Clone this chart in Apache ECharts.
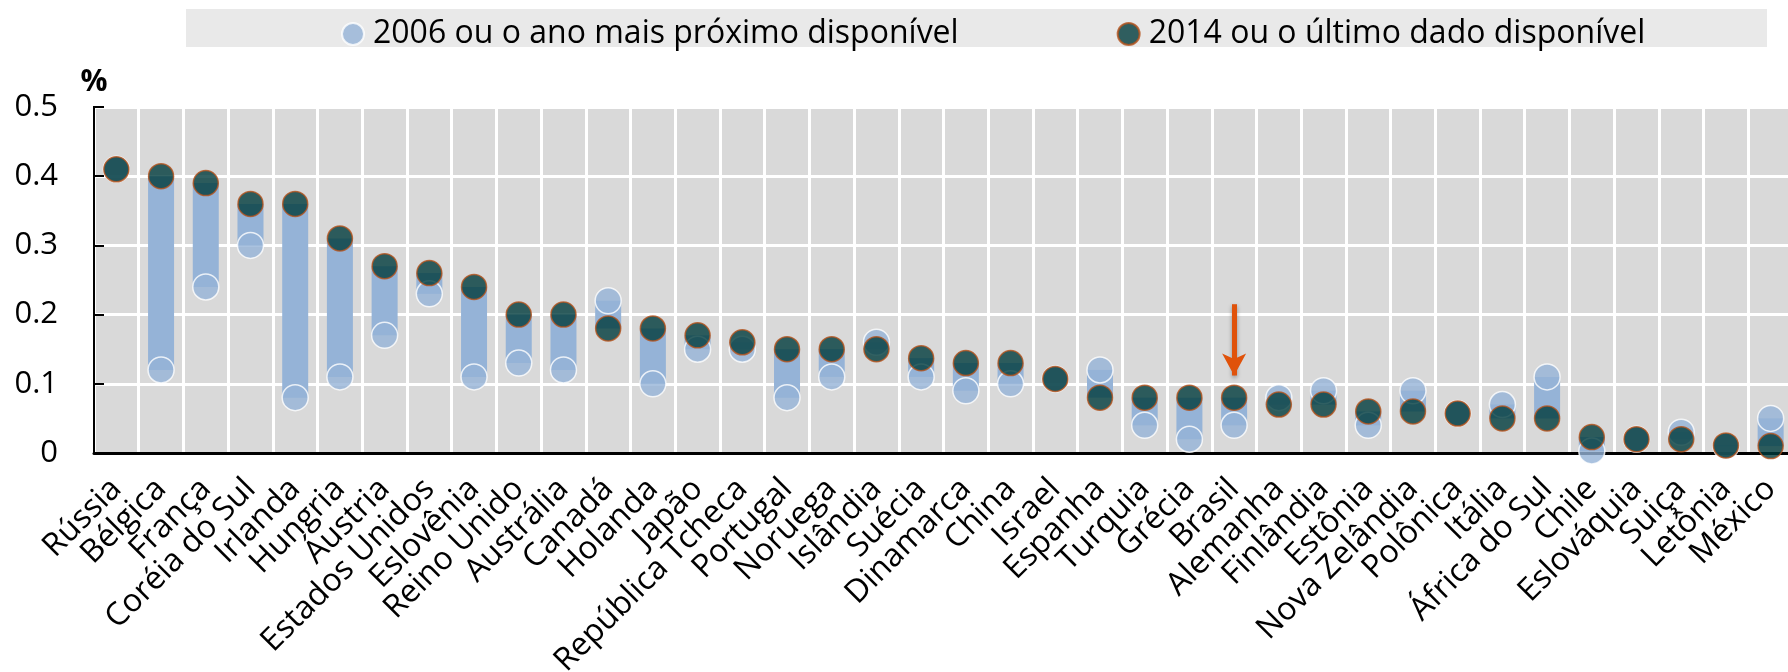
<!DOCTYPE html>
<html>
<head>
<meta charset="utf-8">
<script src="https://cdn.jsdelivr.net/npm/echarts@6/dist/echarts.min.js"></script>
<style>
  html, body { margin: 0; padding: 0; background: #fff; }
  #chart { width: 1788px; height: 672px; }
</style>
</head>
<body>
<div id="chart"></div>
<script>
// países (rótulos do eixo x)
const countries = [
  'Rússia', 'Bélgica', 'França', 'Coréia do Sul', 'Irlanda', 'Hungria', 'Áustria',
  'Estados Unidos', 'Eslovênia', 'Reino Unido', 'Austrália', 'Canadá', 'Holanda',
  'Japão', 'República Tcheca', 'Portugal', 'Noruega', 'Islândia', 'Suécia',
  'Dinamarca', 'China', 'Israel', 'Espanha', 'Turquia', 'Grécia', 'Brasil',
  'Alemanha', 'Finlândia', 'Estônia', 'Nova Zelândia', 'Polônica', 'Itália',
  'África do Sul', 'Chile', 'Eslováquia', 'Suiça', 'Letônia', 'México'
]

// 2006 ou o ano mais próximo disponível
const v2006 = [
  0.41, 0.12, 0.24, 0.30, 0.08, 0.11, 0.17, 0.23, 0.11, 0.13, 0.12, 0.22, 0.10,
  0.15, 0.15, 0.08, 0.11, 0.16, 0.11, 0.09, 0.10, 0.107, 0.12, 0.04, 0.02, 0.04,
  0.08, 0.09, 0.04, 0.09, 0.057, 0.07, 0.11, 0.003, 0.02, 0.03, 0.01, 0.05
]

// 2014 ou o último dado disponível
const v2014 = [
  0.41, 0.40, 0.39, 0.36, 0.36, 0.31, 0.27, 0.26, 0.24, 0.20, 0.20, 0.18, 0.18,
  0.17, 0.16, 0.15, 0.15, 0.15, 0.137, 0.13, 0.13, 0.107, 0.08, 0.08, 0.08, 0.08,
  0.07, 0.07, 0.06, 0.06, 0.057, 0.05, 0.05, 0.023, 0.02, 0.02, 0.011, 0.01
]

const yTicks = [0, 0.1, 0.2, 0.3, 0.4, 0.5]

const legendNames = ['2006 ou o ano mais próximo disponível', '2014 ou o último dado disponível']

// barra de intervalo entre os dois pontos
const rangeBase = v2006.map((v, i) => Math.min(v, v2014[i]))
const rangeSize = v2006.map((v, i) => Math.abs(v - v2014[i]))

const FONT = '"Open Sans", sans-serif'

const chart = echarts.init(document.getElementById('chart'))

const option = {
  animation: false,
  textStyle: { fontFamily: FONT, color: '#000' },
  graphic: [
    {
      // fundo cinza da legenda
      type: 'rect',
      left: 186,
      top: 9,
      shape: { width: 1581, height: 38 },
      style: { fill: '#e9e9e9' },
      z: -1
    }
  ],
  legend: {
    data: legendNames,
    left: 336,
    top: 13,
    itemWidth: 30,
    itemHeight: 22,
    itemGap: 158,
    textStyle: { fontSize: 32, color: '#000', fontFamily: FONT }
  },
  grid: {
    left: 94,
    right: -5,
    top: 107,
    bottom: 219,
    outerBoundsMode: 'none',
    show: true,
    backgroundColor: '#d9d9d9',
    borderColor: '#000',
    borderWidth: 2
  },
  xAxis: {
    type: 'category',
    data: countries,
    boundaryGap: true,
    axisLine: { lineStyle: { color: '#000', width: 3 } },
    axisTick: { inside: true, length: 10, interval: 0, lineStyle: { color: '#000', width: 2 } },
    splitLine: { show: true, interval: 0, lineStyle: { color: '#fff', width: 3 } },
    axisLabel: {
      interval: 0,
      rotate: 45,
      margin: 31,
      fontSize: 32,
      color: '#000',
      fontFamily: FONT
    }
  },
  yAxis: {
    type: 'value',
    min: yTicks[0],
    max: yTicks[yTicks.length - 1],
    interval: 0.1,
    name: '%',
    nameLocation: 'end',
    nameGap: 10,
    nameTextStyle: { fontSize: 30, fontWeight: 'bold', color: '#000', fontFamily: FONT },
    axisLine: { show: true, lineStyle: { color: '#000', width: 2 } },
    axisTick: { show: true, inside: true, length: 10, lineStyle: { color: '#000', width: 2 } },
    splitLine: { lineStyle: { color: '#fff', width: 3 } },
    axisLabel: {
      margin: 36,
      fontSize: 31,
      color: '#000',
      fontFamily: FONT,
      formatter: v => String(Math.round(v * 10) / 10)
    }
  },
  series: [
    {
      name: 'base',
      type: 'bar',
      stack: 'range',
      data: rangeBase,
      barWidth: 26,
      itemStyle: { color: 'transparent' },
      silent: true
    },
    {
      name: 'range',
      type: 'bar',
      stack: 'range',
      data: rangeSize,
      barWidth: 26,
      itemStyle: { color: '#95b3d7' },
      silent: true,
      markLine: {
        silent: true,
        symbol: ['none', 'arrow'],
        symbolSize: [18, 22],
        label: { show: false },
        lineStyle: {
          color: '#e0520a',
          width: 5,
          type: 'solid',
          shadowColor: 'rgba(0,0,0,0.35)',
          shadowBlur: 4,
          shadowOffsetY: 2
        },
        data: [
          [
            { coord: ['Brasil', 0.215] },
            { coord: ['Brasil', 0.112] }
          ]
        ]
      }
    },
    {
      name: legendNames[0],
      type: 'scatter',
      data: v2006,
      symbol: 'circle',
      symbolSize: 26,
      clip: false,
      itemStyle: { color: '#95b3d7', borderColor: '#fff', borderWidth: 1.5 },
      z: 3
    },
    {
      name: legendNames[1],
      type: 'scatter',
      data: v2014,
      symbol: 'circle',
      symbolSize: 25,
      clip: false,
      itemStyle: { color: '#003b3c', borderColor: '#b5531c', borderWidth: 1.5 },
      z: 4
    }
  ]
}

chart.setOption(option)
</script>
</body>
</html>
